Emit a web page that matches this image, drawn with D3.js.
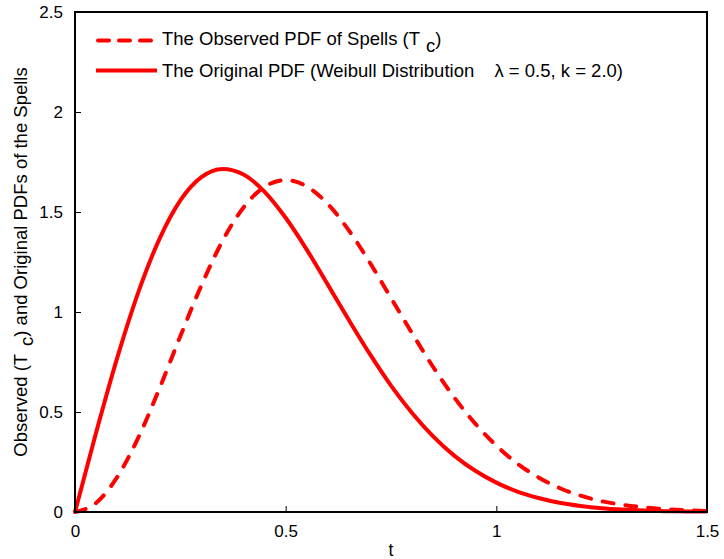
<!DOCTYPE html>
<html>
<head>
<meta charset="utf-8">
<script src="https://cdn.jsdelivr.net/npm/d3@7/dist/d3.min.js"></script>
<style>
  html, body { margin: 0; padding: 0; background: #fff; }
  svg { display: block; font-family: "Liberation Sans", Arial, Helvetica, sans-serif; }
</style>
</head>
<body>
<svg id="chart" width="724" height="559"></svg>
<script>
// ---- data ----
const tValues = [0, 0.05, 0.10, 0.15, 0.20, 0.25, 0.30, 0.35, 0.40, 0.45, 0.50,
                 0.55, 0.60, 0.65, 0.70, 0.75, 0.80, 0.85, 0.90, 0.95, 1.00,
                 1.05, 1.10, 1.15, 1.20, 1.25, 1.30, 1.35, 1.40, 1.45, 1.50];
const observedPDF = [0, 0.045, 0.174, 0.371, 0.615, 0.879, 1.133, 1.355, 1.523, 1.626, 1.660,
                     1.628, 1.540, 1.408, 1.246, 1.070, 0.894, 0.725, 0.573, 0.442, 0.332,
                     0.242, 0.173, 0.120, 0.082, 0.054, 0.036, 0.023, 0.014, 0.009, 0.005];
const originalPDF = [0, 0.396, 0.769, 1.097, 1.363, 1.558, 1.674, 1.715, 1.687, 1.601, 1.471,
                     1.312, 1.137, 0.960, 0.789, 0.632, 0.495, 0.378, 0.282, 0.206, 0.147,
                     0.102, 0.070, 0.046, 0.030, 0.019, 0.012, 0.007, 0.004, 0.003, 0.002];
const xTicks = [0, 0.5, 1, 1.5];
const xTickLabels = ["0", "0.5", "1", "1.5"];
const yTicks = [0, 0.5, 1, 1.5, 2, 2.5];
const yTickLabels = ["0", "0.5", "1", "1.5", "2", "2.5"];
const legendLabels = ["The Observed PDF of Spells (T", "The Original PDF (Weibull Distribution"];

// ---- layout ----
const svg = d3.select("#chart");
const L = 75, R = 707, T = 12, B = 512;
const x = d3.scaleLinear().domain([0, 1.5]).range([L, R]);
const y = d3.scaleLinear().domain([0, 2.5]).range([B, T]);
const red = "#ff0000";

// curves
const line = d3.line().x(d => x(d[0])).y(d => y(d[1])).curve(d3.curveMonotoneX);
const obs = tValues.map((t, i) => [t, observedPDF[i]]);
const org = tValues.map((t, i) => [t, originalPDF[i]]);

svg.append("path").datum(org).attr("d", line)
  .attr("fill", "none").attr("stroke", red).attr("stroke-width", 4)
  .attr("stroke-linejoin", "round");
svg.append("path").datum(obs).attr("d", line)
  .attr("fill", "none").attr("stroke", red).attr("stroke-width", 4)
  .attr("stroke-dasharray", "11,12").attr("stroke-linecap", "round");

// axes
const xAxis = d3.axisBottom(x).tickValues(xTicks).tickFormat((d, i) => xTickLabels[i])
  .tickSizeInner(-6).tickSizeOuter(0).tickPadding(13);
const yAxis = d3.axisLeft(y).tickValues(yTicks).tickFormat((d, i) => yTickLabels[i])
  .tickSizeInner(-6).tickSizeOuter(0).tickPadding(12);

const gx = svg.append("g").attr("transform", `translate(0,${B})`).call(xAxis);
const gy = svg.append("g").attr("transform", `translate(${L},0)`).call(yAxis);
[gx, gy].forEach(g => {
  g.select(".domain").remove();
  g.selectAll(".tick line").attr("stroke", "#000").attr("stroke-width", 1);
  g.selectAll(".tick text").attr("fill", "#000").attr("font-size", 17)
    .attr("font-family", '"Liberation Sans", Arial, Helvetica, sans-serif');
});

// box
svg.append("rect").attr("x", L).attr("y", T).attr("width", R - L).attr("height", B - T)
  .attr("fill", "none").attr("stroke", "#000").attr("stroke-width", 1.2)
  .attr("shape-rendering", "crispEdges");

// axis labels
svg.append("text").attr("x", (L + R) / 2).attr("y", 556).attr("text-anchor", "middle")
  .attr("font-size", 17.5).text("t");

const yl = svg.append("text").attr("transform", `translate(27,${(T + B) / 2}) rotate(-90)`)
  .attr("text-anchor", "middle").attr("font-size", 18.5);
yl.append("tspan").text("Observed (T");
yl.append("tspan").attr("dx", 10).attr("dy", 6).text("c");
yl.append("tspan").attr("dy", -6).text(") and Original PDFs of the Spells");

// legend
const lg = svg.append("g");
lg.append("line").attr("x1", 98).attr("x2", 155).attr("y1", 40.5).attr("y2", 40.5)
  .attr("stroke", red).attr("stroke-width", 4)
  .attr("stroke-dasharray", "11,10").attr("stroke-linecap", "round");
lg.append("line").attr("x1", 96).attr("x2", 157).attr("y1", 70.5).attr("y2", 70.5)
  .attr("stroke", red).attr("stroke-width", 4);

const t1 = lg.append("text").attr("x", 162).attr("y", 45).attr("font-size", 18.5);
t1.append("tspan").text(legendLabels[0]);
t1.append("tspan").attr("dx", 8).attr("dy", 7).text("c");
t1.append("tspan").attr("dy", -7).text(")");

lg.append("text").attr("x", 162).attr("y", 77).attr("font-size", 18.5).text(legendLabels[1]);
lg.append("text").attr("x", 623).attr("y", 77).attr("font-size", 18.5)
  .attr("text-anchor", "end").text("\u03bb = 0.5, k = 2.0)");
</script>
</body>
</html>
